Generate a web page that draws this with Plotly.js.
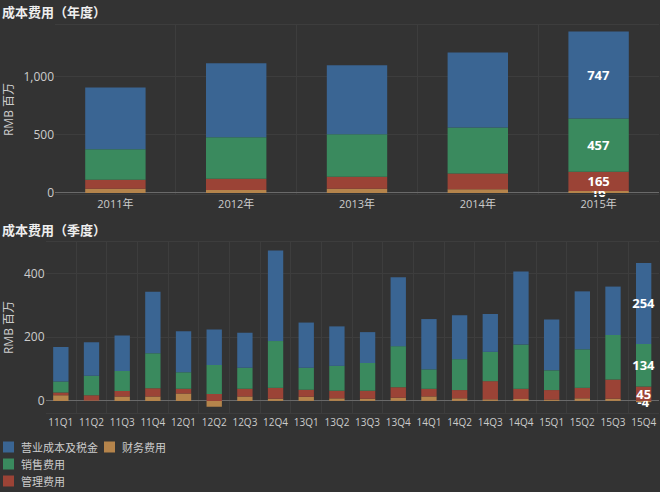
<!DOCTYPE html>
<html>
<head>
<meta charset="utf-8">
<script src="https://cdn.plot.ly/plotly-3.0.1.min.js"></script>
<style>
  html, body { margin: 0; padding: 0; background: #333333; }
  #chart { width: 660px; height: 492px; }
</style>
</head>
<body>
<div id="chart"></div>
<script>
// ---- Data ----
const years = ['2011年', '2012年', '2013年', '2014年', '2015年'];
const yearOps   = [530, 635, 592, 644, 747];   // 营业成本及税金
const yearSales = [261, 356, 365, 395, 457];   // 销售费用
const yearAdmin = [76, 96, 104, 135, 165];     // 管理费用
const yearFin   = [37, 26, 35, 31, 16];        // 财务费用

const quarters = ['11Q1','11Q2','11Q3','11Q4','12Q1','12Q2','12Q3','12Q4','13Q1','13Q2',
                  '13Q3','13Q4','14Q1','14Q2','14Q3','14Q4','15Q1','15Q2','15Q3','15Q4'];
const qOps   = [108, 105, 111, 193, 129, 111, 110, 284, 142, 124, 97, 216, 158, 138, 119, 229, 160, 182, 152, 254];
const qSales = [35, 61, 63, 110, 52, 91, 66, 147, 69, 78, 87, 129, 61, 97, 92, 139, 62, 121, 140, 134];
const qAdmin = [8, 17, 17, 26, 15, 22, 24, 34, 22, 24, 25, 33, 24, 26, 57, 32, 30, 33, 60, 45];
const qFin   = [18, 1, 14, 14, 23, -18, 14, 7, 13, 8, 7, 10, 14, 8, 5, 6, 4, 8, 7, -4];

const names = { ops: '营业成本及税金', sales: '销售费用', admin: '管理费用', fin: '财务费用' };
const colors = { ops: '#3a6593', sales: '#3a8a5e', admin: '#9b4336', fin: '#b5844b' };
// legend layout: columns of series keys
const legendColumns = [['ops', 'sales', 'admin'], ['fin']];

// label only the last bar
function lastLabel(arr) { return arr.map((v, i) => i === arr.length - 1 ? String(v) : ''); }

const FONT = 'Open Sans, "Noto Sans CJK SC", sans-serif';

function barTrace(x, y, key, xa, ya) {
  return {
    type: 'bar', x: x, y: y, name: names[key], xaxis: xa, yaxis: ya,
    marker: { color: colors[key], line: { width: 0 } },
    text: lastLabel(y), textposition: 'inside', insidetextanchor: 'middle',
    textangle: 0, constraintext: 'none', cliponaxis: false,
    insidetextfont: { color: '#ffffff', size: 13, family: FONT, weight: 'bold' },
    textfont: { color: '#ffffff', size: 13, family: FONT, weight: 'bold' },
    showlegend: false, hoverinfo: 'x+y+name'
  };
}

const data = [
  barTrace(years, yearFin, 'fin', 'x', 'y'),
  barTrace(years, yearAdmin, 'admin', 'x', 'y'),
  barTrace(years, yearSales, 'sales', 'x', 'y'),
  barTrace(years, yearOps, 'ops', 'x', 'y'),
  barTrace(quarters, qFin, 'fin', 'x2', 'y2'),
  barTrace(quarters, qAdmin, 'admin', 'x2', 'y2'),
  barTrace(quarters, qSales, 'sales', 'x2', 'y2'),
  barTrace(quarters, qOps, 'ops', 'x2', 'y2')
];

const W = 660, H = 492;
const gridC = '#3d3d3d';
const tickC = '#cccccc';

function xAxis(domain, anchor, fs) {
  return {
    domain: domain, anchor: anchor, type: 'category', tickson: 'boundaries',
    showgrid: true, gridcolor: gridC, gridwidth: 1, ticks: '', tickangle: 0,
    showline: true, mirror: true, linecolor: gridC, linewidth: 1,
    tickfont: { size: fs, color: tickC, family: FONT }, automargin: false, fixedrange: true
  };
}
function yAxis(domain, anchor, range, dtick, fmt) {
  return {
    domain: domain, anchor: anchor, range: range, dtick: dtick, tick0: 0, tickformat: fmt,
    showgrid: true, gridcolor: gridC, gridwidth: 1, ticks: '',
    zeroline: true, zerolinecolor: '#6a6a6a', zerolinewidth: 1,
    tickfont: { size: 12, color: tickC, family: FONT }, automargin: false, fixedrange: true,
    title: { text: 'RMB 百万', font: { size: 12, color: tickC, family: FONT }, standoff: 12 }
  };
}

// custom legend (swatches + labels), placed in paper coordinates
const shapes = [];
const annotations = [
  { text: '<b>成本费用（年度）</b>', xref: 'paper', yref: 'paper', x: 0, y: 1 - 12 / H,
    xanchor: 'left', yanchor: 'middle', showarrow: false,
    font: { size: 13, color: '#eeeeee', family: FONT } },
  { text: '<b>成本费用（季度）</b>', xref: 'paper', yref: 'paper', x: 0, y: 1 - 230 / H,
    xanchor: 'left', yanchor: 'middle', showarrow: false,
    font: { size: 13, color: '#eeeeee', family: FONT } }
];
const legColX = [3, 104], legRow0 = 447, legRowH = 17, sw = 11;
legendColumns.forEach((col, ci) => {
  col.forEach((key, ri) => {
    const cy = legRow0 + ri * legRowH, x0 = legColX[ci];
    shapes.push({ type: 'rect', xref: 'paper', yref: 'paper',
      x0: x0 / W, x1: (x0 + sw) / W, y0: 1 - (cy - sw / 2) / H, y1: 1 - (cy + sw / 2) / H,
      fillcolor: colors[key], line: { width: 0 } });
    annotations.push({ text: names[key], xref: 'paper', yref: 'paper',
      x: (x0 + sw + 5) / W, y: 1 - cy / H, xanchor: 'left', yanchor: 'middle',
      showarrow: false, font: { size: 11, color: tickC, family: FONT } });
  });
});

const layout = {
  width: W, height: H, autosize: false,
  paper_bgcolor: '#333333', plot_bgcolor: '#333333',
  margin: { l: 0, r: 0, t: 0, b: 0 },
  barmode: 'relative', bargap: 0.5, showlegend: false,
  font: { family: FONT, color: tickC },
  uniformtext: { mode: 'show', minsize: 13 },
  xaxis: xAxis([55 / W, 659 / W], 'y', 11),
  yaxis: yAxis([1 - 194 / H, 1 - 25 / H], 'x', [-9, 1441], 500, ',d'),
  xaxis2: xAxis([45.5 / W, 659 / W], 'y2', 10),
  yaxis2: yAxis([1 - 413 / H, 1 - 242 / H], 'x2', [-38, 499], 200, ',d'),
  shapes: shapes,
  annotations: annotations
};

Plotly.newPlot('chart', data, layout, { displayModeBar: false, staticPlot: true });
</script>
</body>
</html>
